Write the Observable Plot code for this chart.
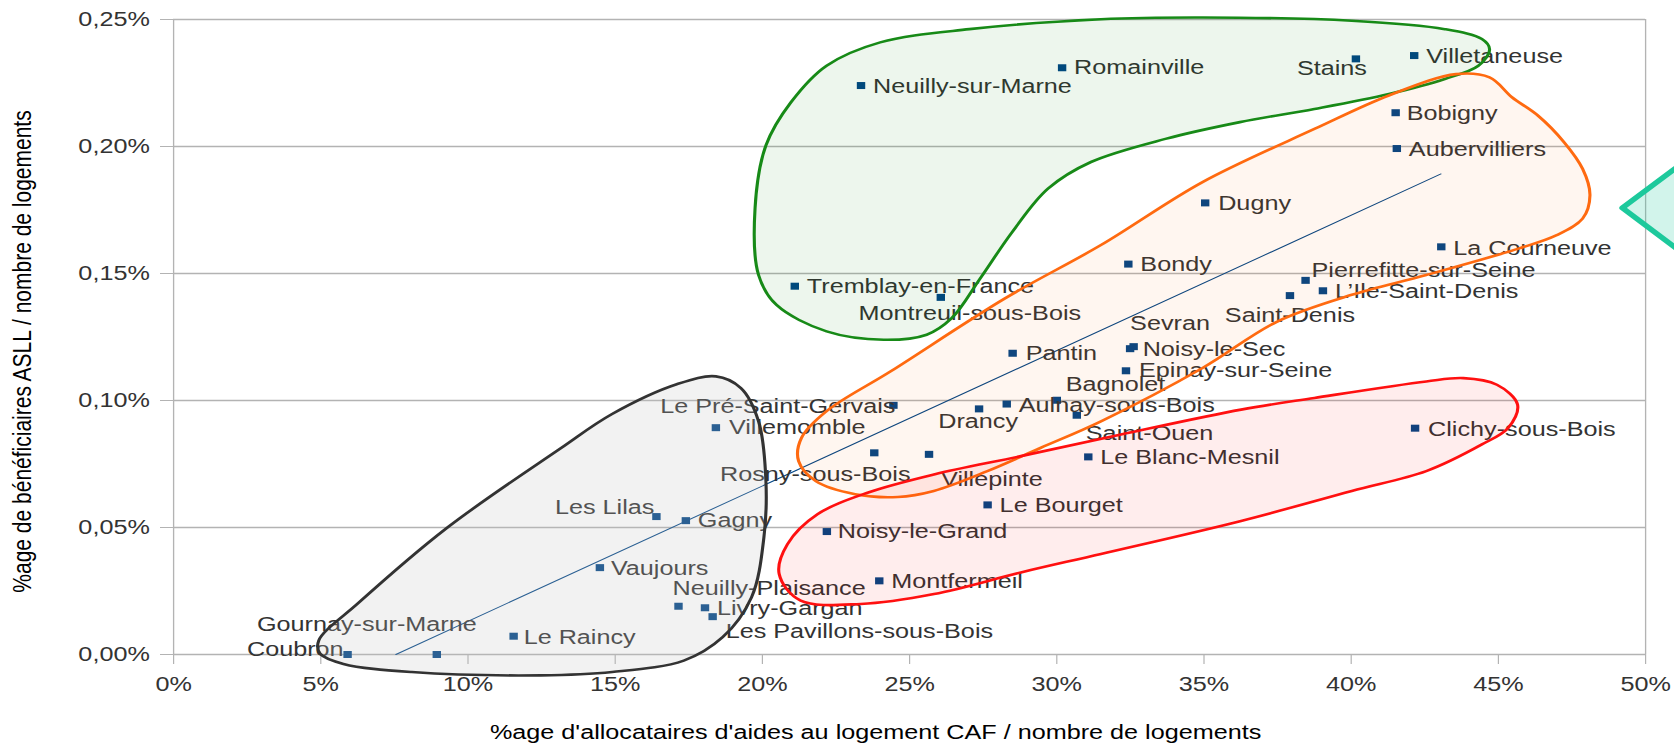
<!DOCTYPE html>
<html>
<head>
<meta charset="utf-8">
<script src="https://cdn.jsdelivr.net/npm/d3@7"></script>
<script src="https://cdn.jsdelivr.net/npm/@observablehq/plot@0.6"></script>
<style>
  html, body { margin: 0; padding: 0; background: #fff; overflow: hidden; }
</style>
</head>
<body>
<div id="chart"></div>
<script>
// ---------- DATA ----------
const cities = [
  "Coubron", "Gournay-sur-Marne", "Le Raincy", "Vaujours", "Les Lilas", "Gagny",
  "Villemomble", "Le Pré-Saint-Gervais", "Rosny-sous-Bois", "Villepinte", "Drancy",
  "Aulnay-sous-Bois", "Bagnolet", "Saint-Ouen", "Le Blanc-Mesnil", "Le Bourget",
  "Noisy-le-Grand", "Montfermeil", "Neuilly-Plaisance", "Livry-Gargan",
  "Les Pavillons-sous-Bois", "Tremblay-en-France", "Montreuil-sous-Bois",
  "Neuilly-sur-Marne", "Romainville", "Stains", "Villetaneuse", "Bobigny",
  "Aubervilliers", "Dugny", "La Courneuve", "Bondy", "Pierrefitte-sur-Seine",
  "L’Ile-Saint-Denis", "Saint-Denis", "Sevran", "Noisy-le-Sec", "Epinay-sur-Seine",
  "Clichy-sous-Bois", "Pantin"
];
// % allocataires d'aides au logement CAF / nombre de logements
const allocatairesPct = [
  5.91, 8.94, 11.55, 14.48, 16.40, 17.40,
  18.42, 24.45, 23.80, 25.66, 27.36,
  28.30, 30.00, 30.68, 31.07, 27.65,
  22.19, 23.97, 17.15, 18.05,
  18.31, 21.10, 26.06,
  23.35, 30.18, 40.16, 42.14, 41.51,
  41.55, 35.04, 43.06, 32.43, 38.45,
  39.04, 37.92, 32.49, 32.61, 32.35,
  42.17, 28.50
];
// % bénéficiaires ASLL / nombre de logements
const asllPct = [
  0.0000, 0.0000, 0.0072, 0.0342, 0.0543, 0.0527,
  0.0893, 0.0981, 0.0794, 0.0788, 0.0967,
  0.0986, 0.1001, 0.0942, 0.0778, 0.0589,
  0.0484, 0.0290, 0.0190, 0.0184,
  0.0149, 0.1450, 0.1406,
  0.2240, 0.2310, 0.2345, 0.2358, 0.2133,
  0.1992, 0.1778, 0.1605, 0.1537, 0.1473,
  0.1432, 0.1413, 0.1204, 0.1212, 0.1117,
  0.0891, 0.1186
];
const xTicks = [0, 5, 10, 15, 20, 25, 30, 35, 40, 45, 50];
const yTicks = [0, 0.05, 0.10, 0.15, 0.20, 0.25];
// trend line end points
const trendX = [7.55, 43.05];
const trendY = [0, 0.1892];

// hand-drawn group outlines, in data units [x %, y %]
const grayZone = [[4.93,0.0055],[6.25,0.0200],[9.28,0.0498],[13.15,0.0812],[14.88,0.0946],[17.09,0.1064],[18.42,0.1095],[19.27,0.1049],[19.87,0.0918],[20.12,0.0683],[20.05,0.0460],[19.63,0.0225],[18.65,0.0068],[17.33,-0.0024],[14.90,-0.0069],[12.47,-0.0082],[8.09,-0.0069],[5.77,-0.0037],[4.98,0.0003]];
const greenZone = [[19.87,0.1494],[19.75,0.1756],[20.12,0.2004],[20.97,0.2174],[22.18,0.2318],[24.00,0.2410],[27.03,0.2462],[31.50,0.2501],[34.95,0.2508],[40.02,0.2495],[43.18,0.2462],[44.44,0.2423],[44.70,0.2383],[44.32,0.2318],[43.18,0.2266],[41.28,0.2207],[38.75,0.2148],[36.22,0.2096],[33.69,0.2030],[31.16,0.1939],[29.70,0.1834],[28.49,0.1664],[27.40,0.1481],[26.43,0.1324],[25.58,0.1259],[24.12,0.1239],[22.18,0.1272],[20.48,0.1376]];
const orangeZone = [[21.23,0.0761],[21.33,0.0853],[22.18,0.0958],[24.36,0.1115],[28.24,0.1402],[31.50,0.1612],[34.95,0.1860],[38.75,0.2069],[41.28,0.2201],[43.56,0.2285],[44.70,0.2272],[45.46,0.2194],[46.34,0.2122],[47.23,0.2017],[47.86,0.1912],[48.11,0.1808],[47.86,0.1716],[46.98,0.1651],[45.71,0.1599],[42.55,0.1494],[40.02,0.1416],[37.49,0.1311],[34.95,0.1128],[31.50,0.0918],[29.46,0.0814],[27.64,0.0722],[25.82,0.0644],[24.60,0.0620],[23.15,0.0631],[21.81,0.0683]];
const redZone = [[20.57,0.0317],[20.85,0.0434],[21.87,0.0552],[23.57,0.0637],[25.83,0.0709],[28.78,0.0781],[32.18,0.0866],[36.26,0.0964],[38.75,0.1010],[42.55,0.1075],[43.81,0.1088],[44.95,0.1062],[45.65,0.0984],[45.33,0.0892],[44.44,0.0827],[42.55,0.0722],[40.02,0.0644],[36.26,0.0526],[31.50,0.0396],[28.78,0.0323],[25.83,0.0238],[23.34,0.0199],[21.30,0.0212]];
const diamondShape = [[49.21,0.1758],[52.55,0.2048],[55.88,0.1758],[52.55,0.1468]];

const xTitle = "%age d'allocataires d'aides au logement CAF / nombre de logements";
const yTitle = "%age de bénéficiaires ASLL / nombre de logements";

// ---------- LAYOUT (label placement, in screen px) ----------
const labelPlacement = {
  "Coubron": ["end", -4, -5], "Gournay-sur-Marne": ["middle", -70, -30],
  "Le Raincy": ["start", 10, 1], "Vaujours": ["start", 11, 1],
  "Les Lilas": ["end", -2, -9], "Gagny": ["start", 12, 0],
  "Villemomble": ["start", 13, 0], "Le Pré-Saint-Gervais": ["end", 2, 1],
  "Rosny-sous-Bois": ["middle", -59, 21], "Villepinte": ["start", 12, 25],
  "Drancy": ["middle", -1, 12], "Aulnay-sous-Bois": ["start", 12, 1],
  "Bagnolet": ["start", 9, -16], "Saint-Ouen": ["start", 9, 18],
  "Le Blanc-Mesnil": ["start", 12, 0], "Le Bourget": ["start", 12, 0],
  "Noisy-le-Grand": ["start", 11, 0], "Montfermeil": ["start", 12, 0],
  "Neuilly-Plaisance": ["start", -6, -18], "Livry-Gargan": ["start", 12, 1],
  "Les Pavillons-sous-Bois": ["start", 13, 15], "Tremblay-en-France": ["start", 12, 0],
  "Montreuil-sous-Bois": ["middle", 29, 16], "Neuilly-sur-Marne": ["start", 12, 1],
  "Romainville": ["start", 12, 0], "Stains": ["middle", -24, 9],
  "Villetaneuse": ["start", 12, 1], "Bobigny": ["start", 11, 1],
  "Aubervilliers": ["start", 12, 1], "Dugny": ["start", 13, 0],
  "La Courneuve": ["start", 12, 1], "Bondy": ["start", 12, 0],
  "Pierrefitte-sur-Seine": ["start", 6, -10], "L’Ile-Saint-Denis": ["start", 12, 0],
  "Saint-Denis": ["middle", 0, 20], "Sevran": ["start", 0, -25],
  "Noisy-le-Sec": ["start", 9, 3], "Epinay-sur-Seine": ["start", 13, -1],
  "Clichy-sous-Bois": ["start", 13, 1], "Pantin": ["start", 13, 0]
};

const W = 1674, H = 747;
const S = 1.2;              // horizontal stretch of the original picture
const IW = W / S;           // internal width
const X0 = 173, X50 = 1645; // screen px of x = 0 % and x = 50 %
const FONT = "'Liberation Sans', Arial, Helvetica, sans-serif";
const idx = d3.range(cities.length);
const mkZone = (pts, stroke, fill, fillOpacity) =>
  Plot.line(pts, {x: d => d[0], y: d => d[1], curve: "catmull-rom-closed",
    stroke, strokeWidth: 2.6, fill, fillOpacity});

const labelMarks = idx.map(i => {
  const [anchor, dx, dy] = labelPlacement[cities[i]];
  return Plot.text([i], {
    x: d => allocatairesPct[d], y: d => asllPct[d], text: d => cities[d],
    textAnchor: anchor, dx: dx / S, dy, fontSize: 21, fill: "#333"
  });
});

const plot = Plot.plot({
  width: IW, height: H,
  marginLeft: X0 / S, marginRight: (W - X50) / S, marginTop: 19, marginBottom: 93,
  style: {fontFamily: FONT, fontSize: "21px", color: "#333", background: "#fff"},
  x: {domain: [xTicks[0], xTicks[xTicks.length - 1]]},
  y: {domain: [yTicks[0], yTicks[yTicks.length - 1]]},
  marks: [
    Plot.ruleY(yTicks, {stroke: "#b3b3b3", strokeWidth: 1.3}),
    Plot.ruleX([xTicks[0], xTicks[xTicks.length - 1]], {stroke: "#b3b3b3", strokeWidth: 1.1}),
    Plot.axisY({ticks: yTicks, tickFormat: d => d.toFixed(2).replace(".", ",") + "%",
      tickSize: 13 / S, tickPadding: 9, stroke: "#b3b3b3", fill: "#333", fontSize: 21, label: null}),
    Plot.axisX({ticks: xTicks, tickFormat: d => d + "%",
      tickSize: 10, tickPadding: 12, stroke: "#b3b3b3", fill: "#333", fontSize: 21, label: null}),
    Plot.line(trendX.map((x, i) => [x, trendY[i]]), {x: d => d[0], y: d => d[1], stroke: "#004586", strokeWidth: 1}),
    Plot.dot(idx, {x: i => allocatairesPct[i], y: i => asllPct[i], symbol: "square", r: 3.95, fill: "#004586"}),
    ...labelMarks,
    mkZone(grayZone, "#333333", "#c3c3c3", 0.22),
    mkZone(greenZone, "#178a17", "#008000", 0.07),
    mkZone(orangeZone, "#ff6a10", "#ff6600", 0.06),
    mkZone(redZone, "#ff1010", "#ff0000", 0.07),
    Plot.line(diamondShape, {x: d => d[0], y: d => d[1], curve: "linear-closed",
      stroke: "#1dc99c", strokeWidth: 5, fill: "#1dc99c", fillOpacity: 0.2}),
    Plot.text([xTitle], {frameAnchor: "bottom", text: d => d,
      textAnchor: "middle", lineAnchor: "middle",
      dx: (875 - (X0 + X50) / 2) / S, dy: 78, fontSize: 21, fill: "#000"}),
    Plot.text([yTitle], {frameAnchor: "left", text: d => d, rotate: -90,
      textAnchor: "middle", lineAnchor: "middle",
      dx: (22 - X0) / S, dy: 351 - (19 + 654) / 2, fontSize: 21, fill: "#000"})
  ]
});

plot.setAttribute("width", W);
plot.setAttribute("height", H);
plot.setAttribute("preserveAspectRatio", "none");
plot.style.width = W + "px";
plot.style.height = H + "px";
plot.style.maxWidth = "none";
document.getElementById("chart").appendChild(plot);
</script>
</body>
</html>
